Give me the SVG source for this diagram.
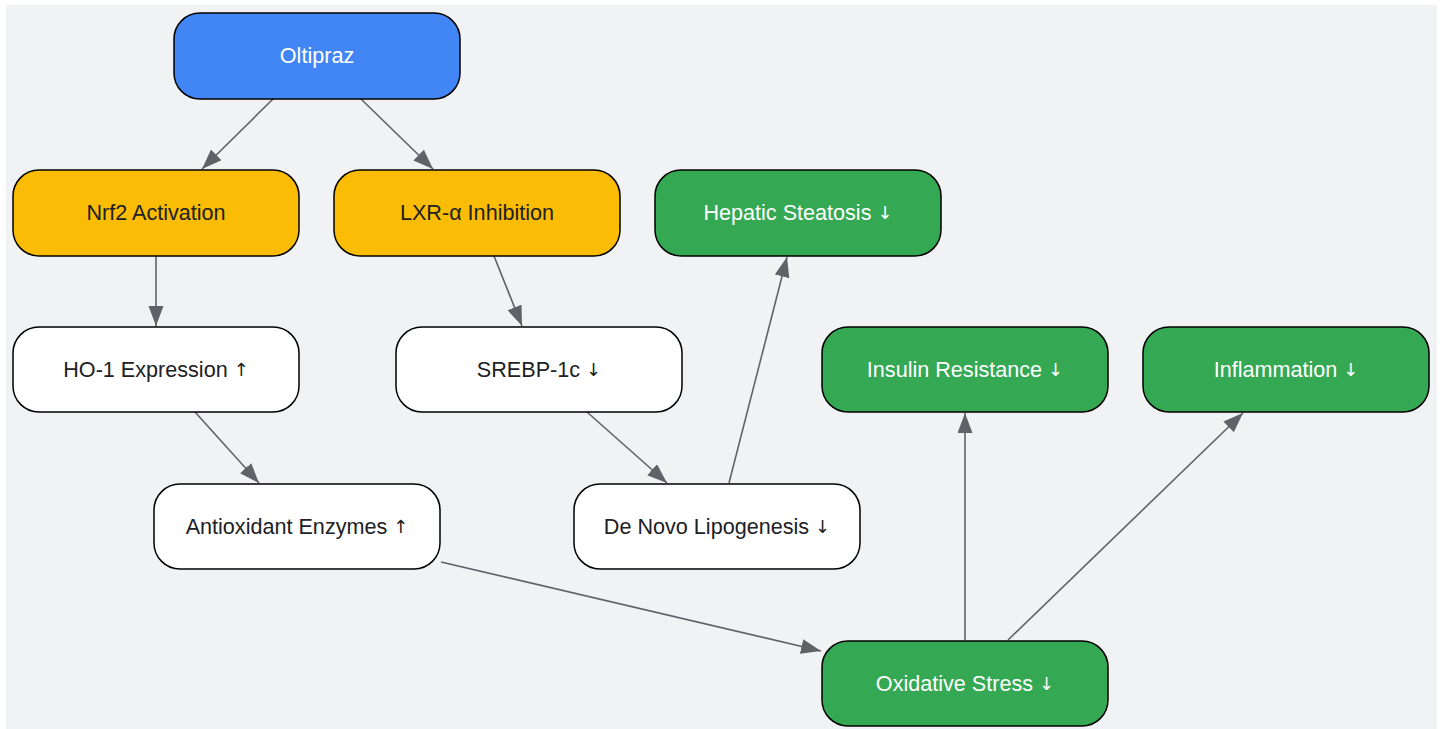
<svg xmlns="http://www.w3.org/2000/svg" width="1443" height="729" viewBox="0 0 1443 729">
<defs>
<style>
.n rect{stroke:#000;stroke-width:1.5}
.n text{font-family:"Liberation Sans",Arial,"DejaVu Sans",sans-serif;font-size:21.6px;text-anchor:middle;dominant-baseline:central}
.n tspan{font-family:"Noto Sans","DejaVu Sans",sans-serif;font-size:18px}
.blue rect{fill:#4285f4}.yel rect{fill:#fbbc05}.grn rect{fill:#34a853}.wht rect{fill:#fff}
.blue text,.grn text{fill:#fff}.yel text,.wht text{fill:#202124}
#edges line{stroke:#5f6368;stroke-width:1.6;marker-end:url(#ah)}
</style>
<marker id="ah" markerUnits="userSpaceOnUse" markerWidth="22" markerHeight="16" refX="20" refY="7.5" orient="auto"><path d="M0,0 L20,7.5 L0,15 Z" fill="#5f6368"/></marker>
</defs>
<rect x="0" y="0" width="1443" height="729" fill="#fff"/>
<rect x="6" y="5" width="1431" height="724" fill="#f1f2f4"/>
<g id="edges">
<line x1="273" y1="99" x2="202" y2="169"/>
<line x1="361" y1="99" x2="433" y2="169"/>
<line x1="156" y1="256" x2="156" y2="326"/>
<line x1="494" y1="256" x2="522" y2="326"/>
<line x1="195" y1="412" x2="259" y2="483"/>
<line x1="587" y1="412" x2="667" y2="483"/>
<line x1="729" y1="483" x2="787" y2="257"/>
<line x1="441" y1="562" x2="821" y2="651"/>
<line x1="965" y1="640" x2="965" y2="413"/>
<line x1="1008" y1="640" x2="1243" y2="413"/>
</g>
<g id="oltipraz" class="n blue"><rect x="174" y="13" width="286" height="86" rx="26"/><text x="317" y="55">Oltipraz</text></g>
<g id="nrf2" class="n yel"><rect x="13" y="170" width="286" height="86" rx="26"/><text x="156" y="212">Nrf2 Activation</text></g>
<g id="lxr" class="n yel"><rect x="334" y="170" width="286" height="86" rx="26"/><text x="477" y="212">LXR-α Inhibition</text></g>
<g id="hepatic" class="n grn"><rect x="655" y="170" width="286" height="86" rx="26"/><text x="798" y="212">Hepatic Steatosis <tspan>↓</tspan></text></g>
<g id="ho1" class="n wht"><rect x="13" y="327" width="286" height="85" rx="26"/><text x="156" y="369">HO-1 Expression <tspan>↑</tspan></text></g>
<g id="srebp" class="n wht"><rect x="396" y="327" width="286" height="85" rx="26"/><text x="539" y="369">SREBP-1c <tspan>↓</tspan></text></g>
<g id="insulin" class="n grn"><rect x="822" y="327" width="286" height="85" rx="26"/><text x="965" y="369">Insulin Resistance <tspan>↓</tspan></text></g>
<g id="inflammation" class="n grn"><rect x="1143" y="327" width="286" height="85" rx="26"/><text x="1286" y="369">Inflammation <tspan>↓</tspan></text></g>
<g id="antiox" class="n wht"><rect x="154" y="484" width="286" height="85" rx="26"/><text x="297" y="526">Antioxidant Enzymes <tspan>↑</tspan></text></g>
<g id="dnl" class="n wht"><rect x="574" y="484" width="286" height="85" rx="26"/><text x="717" y="526">De Novo Lipogenesis <tspan>↓</tspan></text></g>
<g id="oxstress" class="n grn"><rect x="822" y="641" width="286" height="85" rx="26"/><text x="965" y="683">Oxidative Stress <tspan>↓</tspan></text></g>
</svg>
